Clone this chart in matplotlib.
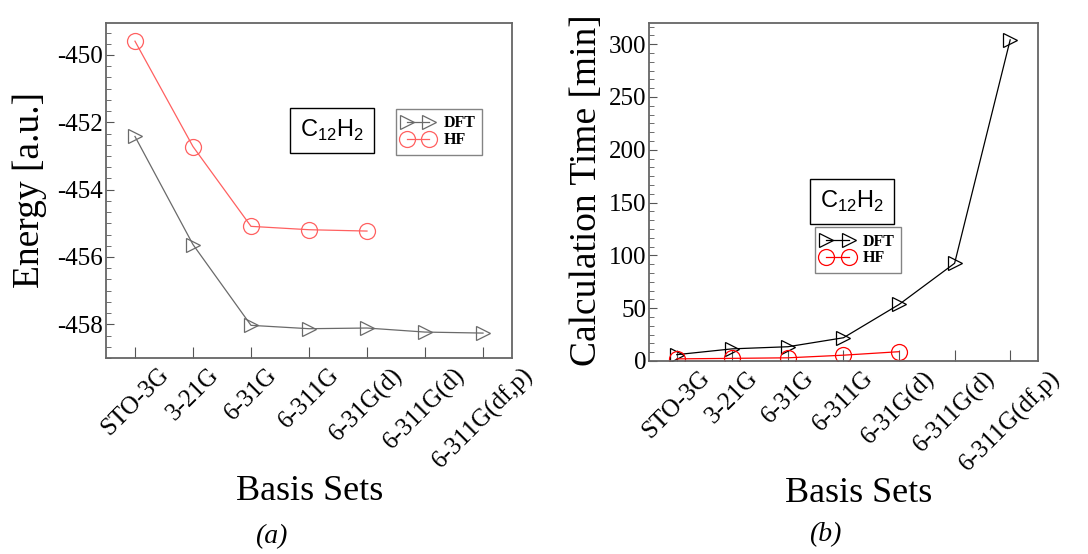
import numpy as np
import matplotlib
matplotlib.use("Agg")
import matplotlib.pyplot as plt

plt.rcParams['font.family'] = ['Liberation Serif', 'DejaVu Serif']
plt.rcParams['axes.unicode_minus'] = False
plt.rcParams['mathtext.fontset'] = 'custom'
plt.rcParams['mathtext.rm'] = 'Liberation Sans'

basis_sets = ['STO-3G', '3-21G', '6-31G', '6-311G', '6-31G(d)', '6-311G(d)', '6-311G(df,p)']

# total energies, a.u.
energy_dft = [-452.42, -455.63, -458.03, -458.13, -458.11, -458.23, -458.26]
energy_hf = [-449.59, -452.72, -455.09, -455.19, -455.23]

# wall time, minutes
time_dft = [6.0, 11.5, 13.5, 22.0, 53.5, 92.5, 304.0]
time_hf = [2.0, 2.5, 3.0, 5.5, 8.8]

formula = r'C$_{\mathregular{12}}$H$_{\mathregular{2}}$'
serif = 'Liberation Serif'


def style_axes(ax, ymin, ymax, ystep):
    ax.set_xlim(0.5, 7.5)
    ax.set_ylim(ymin, ymax)
    ax.set_xticks(np.arange(1, 8))
    ax.set_xticklabels(basis_sets, rotation=45, ha='center', fontsize=18, family=serif)
    ax.set_yticks(np.arange(np.ceil(ymin / ystep) * ystep, ymax + 1e-9, ystep))
    ax.yaxis.set_minor_locator(matplotlib.ticker.AutoMinorLocator(6))
    ax.tick_params(axis='both', which='both', direction='in', top=False, right=False,
                   colors='#555555', labelcolor='black', labelsize=18)
    ax.tick_params(axis='y', which='major', length=6, pad=2)
    ax.tick_params(axis='y', which='minor', length=3.5)
    ax.tick_params(axis='x', which='major', length=8, pad=4)
    for lab in ax.get_yticklabels():
        lab.set_family(serif)
    for sp in ax.spines.values():
        sp.set_color('#666666')
        sp.set_linewidth(1.3)


def add_boxes(ax, fx, fy, lx, ly):
    ax.text(fx, fy, formula, transform=ax.transAxes, ha='center', va='center',
            fontsize=17, family='Liberation Sans',
            bbox=dict(boxstyle='square,pad=0.42', fc='white', ec='black', lw=1.0))
    leg = ax.legend(loc='upper left', bbox_to_anchor=(lx, ly), borderaxespad=0,
                    numpoints=2, handlelength=2.0, handletextpad=0.6,
                    labelspacing=0.05, borderpad=0.4, fancybox=False,
                    prop={'family': serif, 'weight': 'bold', 'size': 11.5})
    leg.get_frame().set_edgecolor('#666666')
    leg.get_frame().set_linewidth(1.0)


fig = plt.figure(figsize=(10.88, 5.54), dpi=100)
ax1 = fig.add_axes([0.0974, 0.3538, 0.3732, 0.6047])
ax2 = fig.add_axes([0.5965, 0.3484, 0.3575, 0.6101])

x_dft = np.arange(1, len(energy_dft) + 1)
x_hf = np.arange(1, len(energy_hf) + 1)

# (a) energies
ax1.plot(x_dft, energy_dft, color='#6a6a6a', lw=0.9, marker='>', ms=10.5,
         mfc='none', mec='#6a6a6a', mew=0.9, label='DFT')
ax1.plot(x_hf, energy_hf, color='#ff6060', lw=0.9, marker='o', ms=11.5,
         mfc='none', mec='#ff6060', mew=0.9, label='HF')
style_axes(ax1, -459.0, -449.05, 2)
add_boxes(ax1, 0.557, 0.678, 0.714, 0.743)

# (b) calculation times
ax2.plot(x_dft, time_dft, color='black', lw=0.9, marker='>', ms=10.5,
         mfc='none', mec='black', mew=0.9, label='DFT')
ax2.plot(x_hf, time_hf, color='red', lw=0.9, marker='o', ms=11.5,
         mfc='none', mec='red', mew=0.9, label='HF')
style_axes(ax2, 0, 320, 50)
add_boxes(ax2, 0.523, 0.473, 0.427, 0.396)

fig.text(30 / 1088, 1 - 190 / 554, 'Energy [a.u.]', rotation=90,
         ha='center', va='center', fontsize=27)
fig.text(587 / 1088, 1 - 190 / 554, 'Calculation Time [min]', rotation=90,
         ha='center', va='center', fontsize=27)
fig.text(310 / 1088, 1 - 492 / 554, 'Basis Sets', ha='center', va='center', fontsize=26)
fig.text(859 / 1088, 1 - 494 / 554, 'Basis Sets', ha='center', va='center', fontsize=26)
fig.text(271 / 1088, 1 - 537 / 554, '(a)', style='italic', ha='center', va='center', fontsize=20)
fig.text(825 / 1088, 1 - 535 / 554, '(b)', style='italic', ha='center', va='center', fontsize=20)

fig.savefig('out.png', dpi=100)
